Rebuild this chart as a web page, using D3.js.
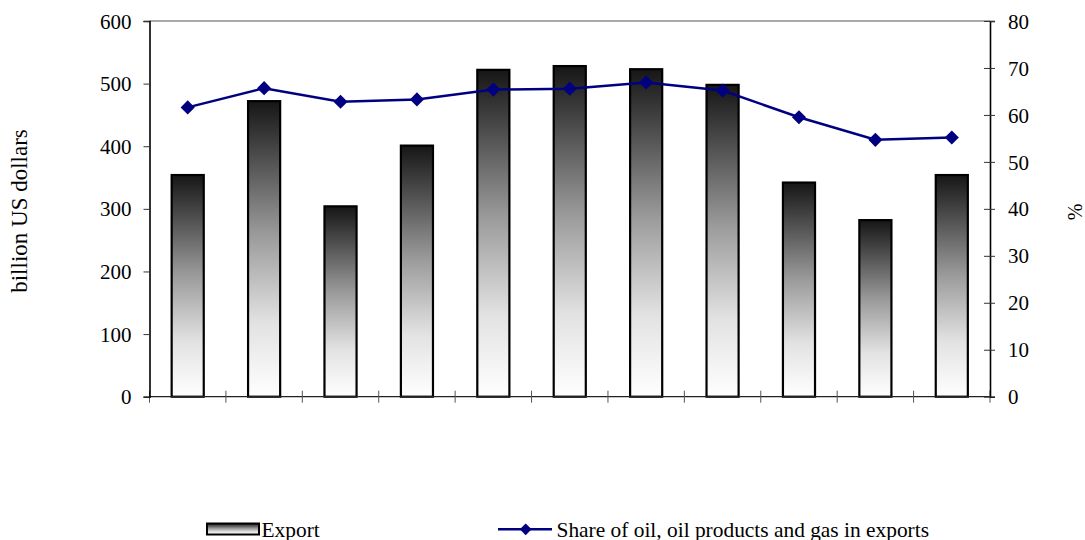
<!DOCTYPE html>
<html>
<head>
<meta charset="utf-8">
<script src="https://cdn.jsdelivr.net/npm/d3@7"></script>
<style>
  html, body { margin: 0; padding: 0; background: #fff; }
  svg { display: block; }
  text { font-family: "Liberation Serif", "Times New Roman", serif; fill: #000; }
</style>
</head>
<body>
<svg id="chart" width="1085" height="540"></svg>
<script>
// Export value per period (billion US dollars) and share of oil, oil products and gas (%)
const periods = ["1", "2", "3", "4", "5", "6", "7", "8", "9", "10", "11"];
const exportValues = [354, 472, 304, 401, 522, 528, 523, 498, 342, 282, 354];
const oilGasShare = [61.6, 65.7, 62.8, 63.3, 65.4, 65.6, 66.9, 65.2, 59.5, 54.7, 55.2];
const leftTicks = [0, 100, 200, 300, 400, 500, 600];
const rightTicks = [0, 10, 20, 30, 40, 50, 60, 70, 80];
const seriesNames = ["Export", "Share of oil, oil products and gas in exports"];
const leftTitle = "billion US dollars";
const rightTitle = "%";

const svg = d3.select("#chart");
const plot = { left: 149.5, right: 990, top: 21, bottom: 396.7 };
const fontSize = 21;
const legendFontSize = 21.4;
const serif = "'Liberation Serif', 'Times New Roman', serif";

const x = d3.scaleBand().domain(periods).range([plot.left, plot.right])
  .paddingInner(0.58).paddingOuter(0.29);
const xStep = d3.scaleBand().domain(periods).range([plot.left, plot.right]).padding(0);
const yL = d3.scaleLinear().domain([0, 600]).range([plot.bottom, plot.top]);
const yR = d3.scaleLinear().domain([0, 80]).range([plot.bottom, plot.top]);

// Vertical gradient for the bars: dark top fading to white at the base
const defs = svg.append("defs");
const grad = defs.append("linearGradient").attr("id", "barGrad")
  .attr("x1", 0).attr("y1", 0).attr("x2", 0).attr("y2", 1);
grad.append("stop").attr("offset", "0%").attr("stop-color", "#161616");
grad.append("stop").attr("offset", "45%").attr("stop-color", "#9a9a9a");
grad.append("stop").attr("offset", "75%").attr("stop-color", "#e2e2e2");
grad.append("stop").attr("offset", "100%").attr("stop-color", "#ffffff");

// Top border of the plot area
svg.append("line")
  .attr("x1", plot.left).attr("x2", plot.right)
  .attr("y1", plot.top).attr("y2", plot.top)
  .attr("stroke", "#8c8c8c").attr("stroke-width", 1.5);

// Bars
svg.append("g").selectAll("rect").data(exportValues).join("rect")
  .attr("x", (d, i) => x(periods[i]))
  .attr("y", d => yL(d))
  .attr("width", x.bandwidth())
  .attr("height", d => plot.bottom - yL(d))
  .attr("fill", "url(#barGrad)")
  .attr("stroke", "#000").attr("stroke-width", 2.2);

// Bottom category axis (no labels, ticks between categories)
const xAxisG = svg.append("g");
xAxisG.append("line")
  .attr("x1", plot.left).attr("x2", plot.right)
  .attr("y1", plot.bottom).attr("y2", plot.bottom)
  .attr("stroke", "#222").attr("stroke-width", 1.2);
const boundaries = periods.map(p => xStep(p)).concat([plot.right]);
xAxisG.selectAll("line.tick").data(boundaries).join("line")
  .attr("class", "tick")
  .attr("x1", d => d).attr("x2", d => d)
  .attr("y1", plot.bottom - 6).attr("y2", plot.bottom + 6)
  .attr("stroke", "#555").attr("stroke-width", 1);

// Left axis
const leftAxis = svg.append("g").attr("transform", `translate(${plot.left},0)`)
  .call(d3.axisLeft(yL).tickValues(leftTicks).tickSize(6).tickPadding(12));
leftAxis.select(".domain").attr("stroke", "#000").attr("stroke-width", 1.6);
leftAxis.selectAll(".tick line").attr("stroke", "#333");
leftAxis.selectAll("text").style("font-size", fontSize + "px").style("font-family", serif);

// Right axis (ticks cross the axis line)
const rightAxis = svg.append("g").attr("transform", `translate(${plot.right},0)`)
  .call(d3.axisRight(yR).tickValues(rightTicks).tickSize(5).tickPadding(13));
rightAxis.select(".domain").attr("stroke", "#000").attr("stroke-width", 1.6);
rightAxis.selectAll(".tick line").attr("x1", -6).attr("stroke", "#333");
rightAxis.selectAll("text").style("font-size", fontSize + "px").style("font-family", serif);
leftAxis.selectAll(".tick text").attr("dy", "0.34em");
rightAxis.selectAll(".tick text").attr("dy", "0.34em");

// Axis titles
svg.append("text")
  .attr("transform", "translate(27,211) rotate(-90)")
  .attr("text-anchor", "middle")
  .style("font-size", "23px")
  .text(leftTitle);
svg.append("text")
  .attr("transform", "translate(1082,212) rotate(-90)")
  .attr("text-anchor", "middle")
  .style("font-size", "20px")
  .text(rightTitle);

// Share line with diamond markers
const lineColor = "#000080";
const cx = i => x(periods[i]) + x.bandwidth() / 2;
svg.append("path")
  .datum(oilGasShare)
  .attr("fill", "none").attr("stroke", lineColor).attr("stroke-width", 2.5)
  .attr("d", d3.line().x((d, i) => cx(i)).y(d => yR(d)));
svg.append("g").selectAll("path").data(oilGasShare).join("path")
  .attr("d", d3.symbol().type(d3.symbolSquare).size(100))
  .attr("transform", (d, i) => `translate(${cx(i)},${yR(d)}) rotate(45)`)
  .attr("fill", lineColor);

// Legend
const legend = svg.append("g");
legend.append("rect")
  .attr("x", 207).attr("y", 523.5).attr("width", 52).attr("height", 11)
  .attr("fill", "url(#barGrad)").attr("stroke", "#000").attr("stroke-width", 2);
legend.append("text").attr("x", 261.5).attr("y", 536.5)
  .style("font-size", legendFontSize + "px").text(seriesNames[0]);
legend.append("line")
  .attr("x1", 498).attr("x2", 552).attr("y1", 529.3).attr("y2", 529.3)
  .attr("stroke", lineColor).attr("stroke-width", 2.5);
legend.append("path")
  .attr("transform", "translate(525.7,529.3) rotate(45)")
  .attr("d", d3.symbol().type(d3.symbolSquare).size(70))
  .attr("fill", lineColor);
legend.append("text").attr("x", 556.5).attr("y", 536.5)
  .style("font-size", legendFontSize + "px").text(seriesNames[1]);
</script>
</body>
</html>
